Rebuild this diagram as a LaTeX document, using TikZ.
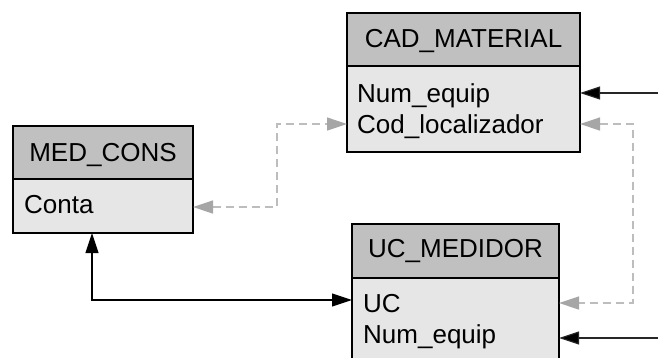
\documentclass[tikz,border=0pt]{standalone}
\usepackage{fontspec}
\setmainfont{Liberation Sans}
\usetikzlibrary{arrows.meta}

\definecolor{hdrgray}{HTML}{C0C0C0}
\definecolor{bodygray}{HTML}{E6E6E6}
\definecolor{fkgray}{HTML}{A6A6A6}
\definecolor{fkline}{HTML}{BDBDBD}

\tikzset{
  hdr/.style={draw=black, line width=1.6pt, fill=hdrgray, anchor=north west,
    inner sep=0pt, outer sep=0pt},
  bodybox/.style={draw=black, line width=1.6pt, fill=bodygray, anchor=north west,
    inner sep=0pt, outer sep=0pt},
  title/.style={anchor=base, inner sep=0pt, font=\fontsize{26}{30}\selectfont},
  field/.style={anchor=base west, inner sep=0pt, font=\fontsize{26}{30}\selectfont},
  tip/.style={Triangle[length=20pt, width=13pt]},
  rel/.style={draw=black, line width=1.1pt, {Triangle[length=20pt, width=13pt]}-{Triangle[length=20pt, width=13pt]}},
  inrel/.style={draw=black!85, line width=1.1pt, -{Triangle[length=20pt, width=13pt, fill=black]}},
  fk/.style={draw=fkline, line width=1.3pt, dash pattern=on 8pt off 5pt,
    {Triangle[length=20pt, width=13pt, fill=fkgray, color=fkgray]}-{Triangle[length=20pt, width=13pt, fill=fkgray, color=fkgray]}}
}

\begin{document}
\begin{tikzpicture}[x=1pt, y=-1pt]
  \useasboundingbox (0,0) rectangle (658,357);
  \clip (0,0) rectangle (658,357);

  % CAD_MATERIAL
  \node[hdr, minimum width=233pt, minimum height=53pt] (cadh) at (347,13) {};
  \node[bodybox, minimum width=233pt, minimum height=86pt] (cadb) at (347,66) {};
  \node[title] (cadt) at (463.5,47) {CAD\_MATERIAL};
  \node[field] (cadnum) at (357,102) {Num\_equip};
  \node[field] (cadcod) at (357,133) {Cod\_localizador};

  % MED_CONS
  \node[hdr, minimum width=180pt, minimum height=53pt] (medh) at (13,126) {};
  \node[bodybox, minimum width=180pt, minimum height=54pt] (medb) at (13,179) {};
  \node[title] (medt) at (103,161) {MED\_CONS};
  \node[field] (medconta) at (24,213) {Conta};

  % UC_MEDIDOR
  \node[hdr, minimum width=207pt, minimum height=54pt] (uch) at (352,224) {};
  \node[bodybox, minimum width=207pt, minimum height=100pt] (ucb) at (352,278) {};
  \node[title] (uct) at (455.5,257) {UC\_MEDIDOR};
  \node[field] (ucuc) at (363,312) {UC};
  \node[field] (ucnum) at (363,343) {Num\_equip};

  % bends and free ends of the connectors
  \coordinate (j1) at (277,124);
  \coordinate (j2) at (633,124);
  \coordinate (j3) at (92,300);
  \coordinate (inA) at (658,93);
  \coordinate (inB) at (658,338);

  % dashed references
  \draw[fk] (medb.east |- 0,207) -| (j1) -- (cadb.west |- j1);
  \draw[fk] (cadb.east |- j2) -- (j2) |- (ucb.east |- 0,303);

  % solid relations
  \draw[rel] (medb.south -| j3) -- (j3) -- (ucb.west |- j3);
  \draw[inrel] (inA) -- (cadb.east |- inA);
  \draw[inrel] (inB) -- (ucb.east |- inB);
\end{tikzpicture}
\end{document}
